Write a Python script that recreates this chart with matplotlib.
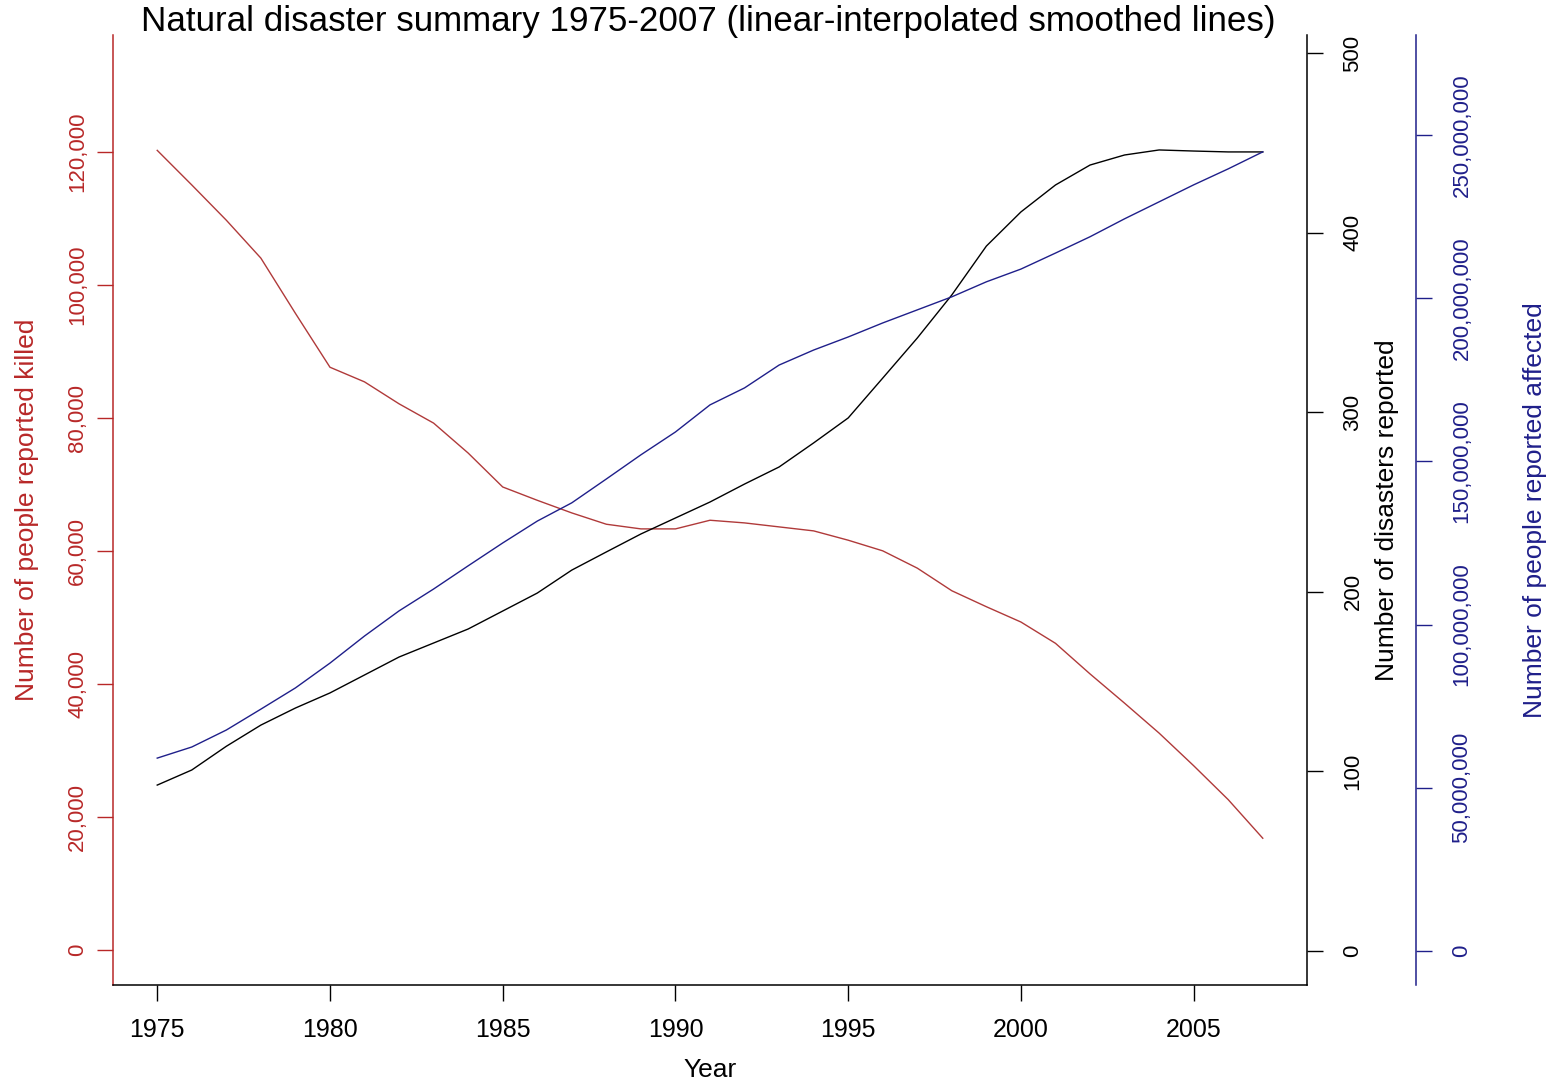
import matplotlib
matplotlib.use("Agg")
import matplotlib.pyplot as plt
from matplotlib.ticker import FuncFormatter

# yearly values
years = list(range(1975, 2008))
killed = [120200, 115000, 109700, 104000, 95700, 87600, 85400, 82100, 79200, 74700,
          69600, 67600, 65700, 64000, 63300, 63300, 64600, 64200, 63600, 63000,
          61600, 60000, 57400, 54000, 51600, 49300, 46100, 41500, 37100, 32600,
          27700, 22600, 16800]
disasters = [92.4, 100.8, 114, 125.8, 135.3, 143.7, 153.7, 163.7, 171.5, 179.3,
             189.3, 199.3, 212.1, 222.2, 232.2, 241.1, 250, 260, 269.5, 282.9,
             296.8, 319, 341.3, 365.3, 392.5, 411.5, 426.5, 437.6, 443.2, 446,
             445.4, 444.9, 444.9]
affected_m = [59.1, 62.5, 67.7, 74.1, 80.6, 88.2, 96.5, 104.2, 110.9, 118.0,
              125.0, 131.7, 137.3, 144.6, 152.0, 159.0, 167.3, 172.5, 179.5, 184.1,
              188.1, 192.4, 196.4, 200.4, 205.0, 208.9, 213.8, 218.8, 224.3, 229.5,
              234.7, 239.6, 244.8]
affected = [v * 1e6 for v in affected_m]

xticks = [1975, 1980, 1985, 1990, 1995, 2000, 2005]
killed_ticks = [0, 20000, 40000, 60000, 80000, 100000, 120000]
disaster_ticks = [0, 100, 200, 300, 400, 500]
affected_ticks = [0, 50e6, 100e6, 150e6, 200e6, 250e6]

red = '#B82828'
red_line = '#B03A3A'
blue = '#1F1F8A'
black = '#000000'

plt.rcParams['font.family'] = ['Liberation Sans', 'DejaVu Sans']

W, H = 1560, 1084
fig = plt.figure(figsize=(W / 100, H / 100), dpi=100)
ax = fig.add_axes([113 / W, 1 - 985 / H, 1194 / W, 950 / H])
ax2 = ax.twinx()
ax3 = ax.twinx()

comma = FuncFormatter(lambda v, p: '{:,.0f}'.format(v))
tick_len = 11.5
tick_w = 1.0
tick_fs = 16
label_fs = 19

# killed (left, red)
ax.plot(years, killed, color=red_line, lw=1.0)
ax.set_xlim(1973.72, 2008.28)
ax.set_ylim(-5260, 137540)
ax.set_xticks(xticks)
ax.set_yticks(killed_ticks)
ax.yaxis.set_major_formatter(comma)
ax.spines['top'].set_visible(False)
ax.spines['right'].set_visible(False)
ax.spines['left'].set_color(red)
ax.spines['left'].set_linewidth(1.1)
ax.spines['bottom'].set_linewidth(1.1)
ax.tick_params(axis='x', length=tick_len, width=tick_w, labelsize=18, pad=12, colors=black)
ax.tick_params(axis='y', length=tick_len, width=tick_w, labelsize=tick_fs, pad=6.5,
               colors=red, labelrotation=90)
for t in ax.yaxis.get_major_ticks():
    t.label1.set_verticalalignment('center')
ax.set_xlabel('Year', fontsize=label_fs)
ax.xaxis.set_label_coords(0.5, -0.0895)
ax.xaxis.label.set_verticalalignment('center')
ax.set_ylabel('Number of people reported killed', fontsize=label_fs, color=red)
ax.yaxis.set_label_coords((27 - 113) / 1194, 0.5)
ax.yaxis.label.set_verticalalignment('center')

# disasters (right, black)
ax2.plot(years, disasters, color=black, lw=1.0)
ax2.set_ylim(-18.9, 510)
ax2.set_yticks(disaster_ticks)
for s in ['top', 'left', 'bottom']:
    ax2.spines[s].set_visible(False)
ax2.spines['right'].set_linewidth(1.1)
ax2.tick_params(axis='y', length=tick_len, width=tick_w, labelsize=tick_fs, pad=14,
                labelrotation=90)
for t in ax2.yaxis.get_major_ticks():
    t.label2.set_verticalalignment('center')
ax2.set_ylabel('Number of disasters reported', fontsize=label_fs)
ax2.yaxis.set_label_coords((1387 - 113) / 1194, 0.5)
ax2.yaxis.label.set_verticalalignment('center')

# affected (outer right, blue)
ax3.plot(years, affected, color=blue, lw=1.0)
ax3.set_ylim(-10.4e6, 280.6e6)
ax3.set_yticks(affected_ticks)
ax3.yaxis.set_major_formatter(comma)
for s in ['top', 'left', 'bottom']:
    ax3.spines[s].set_visible(False)
ax3.spines['right'].set_position(('axes', 1 + 109 / 1194))
ax3.spines['right'].set_color(blue)
ax3.spines['right'].set_linewidth(1.1)
ax3.tick_params(axis='y', length=tick_len, width=tick_w, labelsize=tick_fs, pad=14,
                colors=blue, labelrotation=90)
for t in ax3.yaxis.get_major_ticks():
    t.label2.set_verticalalignment('center')
ax3.set_ylabel('Number of people reported affected', fontsize=label_fs, color=blue)
ax3.yaxis.set_label_coords((1535 - 113) / 1194, 0.5)
ax3.yaxis.label.set_verticalalignment('center')

fig.text(708 / W, 1 - 21 / H,
         'Natural disaster summary 1975-2007 (linear-interpolated smoothed lines)',
         ha='center', va='center', fontsize=25.2)

fig.savefig('out.png', dpi=100)
